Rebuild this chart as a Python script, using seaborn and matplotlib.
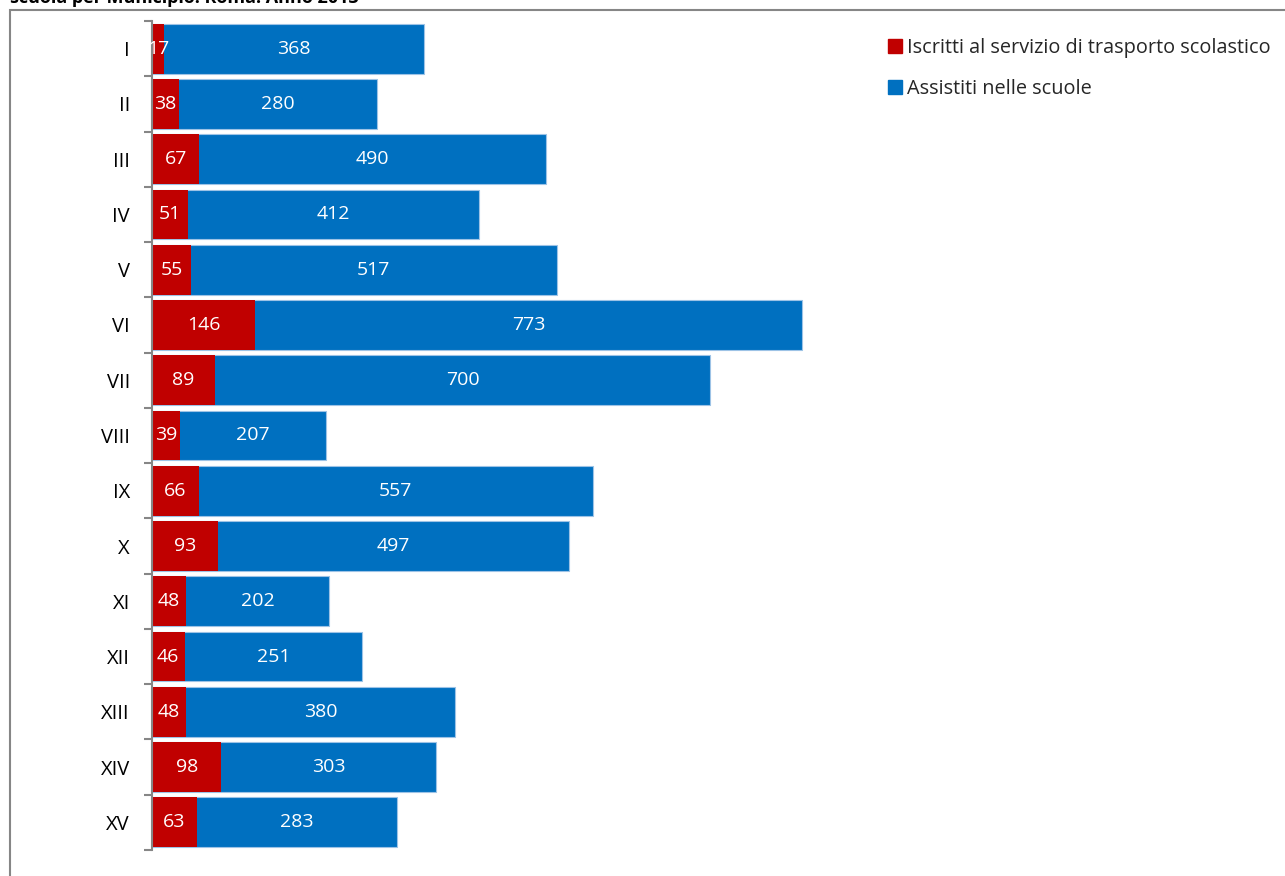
import numpy as np
import pandas as pd
import seaborn as sns
import matplotlib.pyplot as plt
from matplotlib.patches import Patch, Rectangle

# Data: municipi of Roma
municipi = ['I', 'II', 'III', 'IV', 'V', 'VI', 'VII', 'VIII', 'IX', 'X',
            'XI', 'XII', 'XIII', 'XIV', 'XV']
iscritti = [17, 38, 67, 51, 55, 146, 89, 39, 66, 93, 48, 46, 48, 98, 63]
assistiti = [368, 280, 490, 412, 517, 773, 700, 207, 557, 497, 202, 251, 380, 303, 283]

df = pd.DataFrame({'Municipio': municipi, 'Iscritti': iscritti, 'Assistiti': assistiti})
df['Totale'] = df['Iscritti'] + df['Assistiti']

red = '#C00000'
blue = '#0070C0'

sns.set_theme(style='white')
plt.rcParams['font.family'] = ['Open Sans', 'DejaVu Sans']

fig = plt.figure(figsize=(12.85, 8.76), dpi=100)
W, H = 1285, 876
ax = fig.add_axes([152 / W, 26 / H, 718 / W, 829 / H])

# stacked: blue totals first, red on top
sns.barplot(data=df, y='Municipio', x='Totale', color=blue, orient='h',
            width=0.9, edgecolor='#9DC3E6', linewidth=0.8, ax=ax, saturation=1)
sns.barplot(data=df, y='Municipio', x='Iscritti', color=red, orient='h',
            width=0.9, linewidth=0, ax=ax, saturation=1)

for i, (r, b) in enumerate(zip(iscritti, assistiti)):
    ax.text(r / 2, i, str(r), color='white', ha='center', va='center', fontsize=14)
    ax.text(r + b / 2, i, str(b), color='white', ha='center', va='center', fontsize=14)

ax.set_xlim(0, 718 / 0.7073)
ax.set_ylim(len(municipi) - 0.5, -0.5)
ax.set_xlabel('')
ax.set_ylabel('')
ax.set_xticks([])
for s in ['top', 'right', 'bottom']:
    ax.spines[s].set_visible(False)
ax.spines['left'].set_color('#868686')
ax.spines['left'].set_linewidth(1.5)

ax.set_yticks(np.arange(-0.5, len(municipi), 1), minor=True)
ax.tick_params(axis='y', which='major', length=0, pad=16, labelsize=14.5, labelcolor='black')
ax.tick_params(axis='y', which='minor', length=6, width=1.5, color='#868686', left=True)

handles = [Patch(color=red, label='Iscritti al servizio di trasporto scolastico'),
           Patch(color=blue, label='Assistiti nelle scuole')]
fig.legend(handles=handles, loc='upper left', bbox_to_anchor=(870 / W, 1 - 20 / H),
           frameon=False, fontsize=14.3, handlelength=0.7, handleheight=0.7,
           handletextpad=0.25, labelspacing=1.05)

# outer chart frame
fig.patches.append(Rectangle((10 / W, -0.1), 1.2, 1 - 10 / H + 0.1,
                             transform=fig.transFigure, fill=False,
                             edgecolor='#868686', linewidth=1.5))

fig.text(10 / W, 1.0 + 2 / H, 'scuola per Municipio. Roma. Anno 2013', ha='left', va='center',
         fontsize=13, fontweight='bold', color='black')

fig.savefig('out.png', dpi=100)
